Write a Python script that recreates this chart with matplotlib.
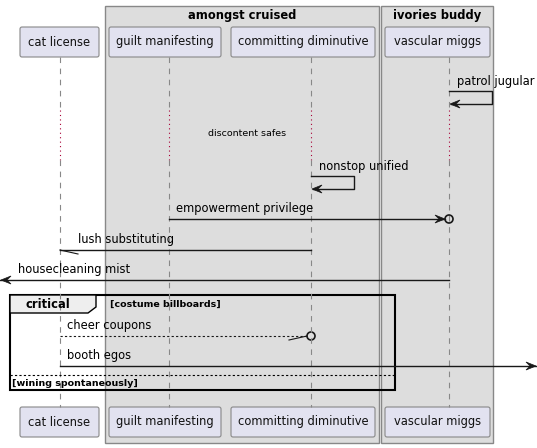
import matplotlib
matplotlib.use("Agg")
import matplotlib.pyplot as plt
from matplotlib.patches import Rectangle, FancyBboxPatch, Polygon, Circle

participants = ["cat license", "guilt manifesting", "committing diminutive", "vascular miggs"]
px = [60, 169, 311, 449]
pbox = [(20, 99), (109, 221), (231, 375), (385, 490)]
groups = [("amongst cruised", 105, 379), ("ivories buddy", 381, 493)]
# messages: (label, from_idx, to_idx/edge, y, style, head)
messages = [
    ("empowerment privilege", 1, 3, 219, "solid", "circle"),
    ("lush substituting", 2, 0, 250, "solid", "half"),
    ("housecleaning mist", 3, "left", 280, "solid", "full"),
    ("cheer coupons", 0, 2, 336, "dashed", "circlehalf"),
    ("booth egos", 0, "right", 366, "solid", "full"),
]
selfs = [("patrol jugular", 3, 91), ("nonstop unified", 2, 176)]
delay_label = "discontent safes"

W, H = 537, 448
fig = plt.figure(figsize=(W/100, H/100), dpi=100)
ax = fig.add_axes([0, 0, 1, 1])
ax.set_xlim(0, W); ax.set_ylim(H, 0); ax.axis("off")
fs = 8.3
for name, x0, x1 in groups:
    ax.add_patch(Rectangle((x0, 6), x1-x0, 437, fc="#dddddd", ec="#888888", lw=1))
    ax.text((x0+x1)/2, 15, name, ha="center", va="center", fontsize=fs, fontweight="bold")
for x in px:
    ax.plot([x, x], [57, 110], ls=(0, (5, 5)), color="#888888", lw=0.8)
    ax.plot([x, x], [110, 160], ls=(0, (1, 3)), color="#a80036", lw=0.8)
    ax.plot([x, x], [160, 407], ls=(0, (5, 5)), color="#888888", lw=0.8)
for name, (b0, b1) in zip(participants, pbox):
    for y0 in (27, 407):
        ax.add_patch(FancyBboxPatch((b0, y0), b1-b0, 30, boxstyle="round,pad=0,rounding_size=2",
                                    fc="#e2e2f0", ec="#888888", lw=0.8))
        ax.text((b0+b1)/2, y0+15, name, ha="center", va="center", fontsize=fs, color="#111111")
ax.text(247, 134, delay_label, ha="center", va="center", fontsize=6.8)

def head(x, y, d, half=False):
    pts = [(x, y), (x - 10*d, y - 4), (x - 6*d, y), (x - 10*d, y + 4)]
    ax.add_patch(Polygon(pts, closed=True, fc="#181818", ec="#181818", lw=0.5))

for lab, i, y in selfs:
    x = px[i]
    ax.plot([x, x+43, x+43, x+2], [y, y, y+13, y+13], color="#181818", lw=1)
    head(x+1, y+13, -1)
    ax.text(x+8, y-3, lab, fontsize=fs, va="bottom")

frame_x0, frame_x1, fy0, fy1 = 10, 395, 295, 390
ax.add_patch(Rectangle((frame_x0, fy0), frame_x1-frame_x0, fy1-fy0, fc="none", ec="#000000", lw=1.5))
ax.add_patch(Polygon([(frame_x0, fy0), (96, fy0), (96, 307), (88, 313), (frame_x0, 313)], fc="#eeeeee", ec="#000000", lw=1))
ax.text(25, 304, "critical", fontsize=fs, fontweight="bold", va="center")
ax.text(110, 304, "[costume billboards]", fontsize=6.8, fontweight="bold", va="center")
ax.plot([frame_x0, frame_x1], [375, 375], ls=(0, (2, 2)), color="#000000", lw=0.8)
ax.text(12, 383, "[wining spontaneously]", fontsize=6.8, fontweight="bold", va="center")

for lab, i, j, y, st, hd in messages:
    x0 = px[i]
    x1 = 0 if j == "left" else (W if j == "right" else px[j])
    d = 1 if x1 > x0 else -1
    ls = (0, (2, 2)) if st == "dashed" else "-"
    end = x1
    if hd.startswith("circle"):
        ax.add_patch(Circle((x1, y), 4, fc="none", ec="#181818", lw=1.2))
        end = x1 - 4*d
    ax.plot([x0, end], [y, y], ls=ls, color="#181818", lw=1 if st == "solid" else 0.8)
    if hd == "full":
        head(x1 + (-1 if d > 0 else 1), y, d)
    elif hd == "circle":
        head(end, y, d)
    else:
        ax.plot([end, end - 18*d], [y, y + 4], color="#181818", lw=0.8)
    tx = min(x0, x1) + (18 if j == "left" else 7 if d > 0 else 18)
    ax.text(tx, y-4, lab, fontsize=fs, va="bottom")

fig.savefig("out.png", dpi=100, facecolor="white")
